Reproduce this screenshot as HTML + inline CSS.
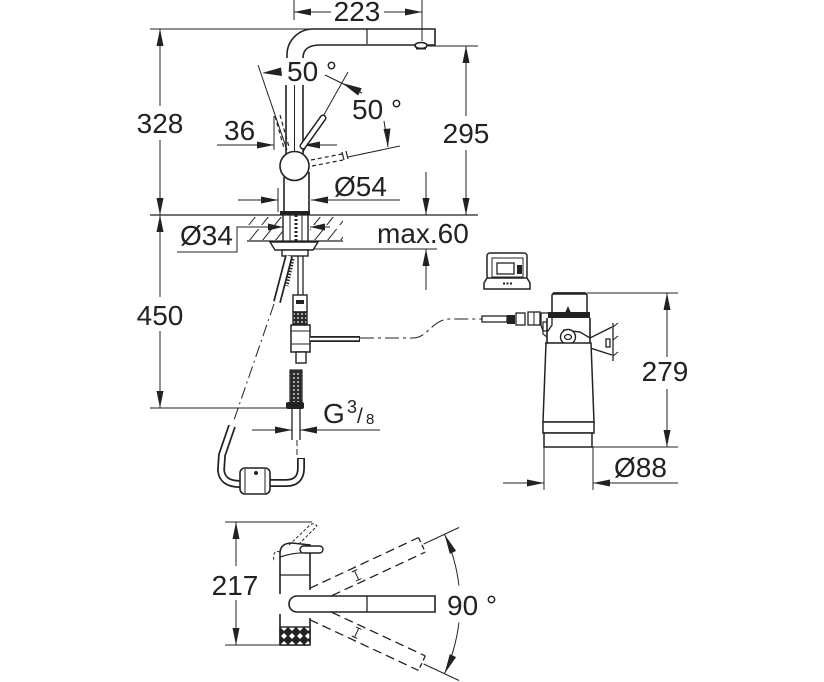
<!DOCTYPE html>
<html><head><meta charset="utf-8"><style>
html,body{margin:0;padding:0;background:#fff;}
svg{display:block;}
text{font-family:"Liberation Sans",Arial,sans-serif;fill:#222;stroke:none;}
</style></head><body>
<svg width="824" height="682" viewBox="0 0 824 682" xmlns="http://www.w3.org/2000/svg">
<defs>
<pattern id="braid" width="4" height="4" patternUnits="userSpaceOnUse"><rect width="4" height="4" fill="#2a2a2a"/><circle cx="2" cy="2" r="0.9" fill="#fff"/></pattern>
<pattern id="knurl" width="8" height="8" patternUnits="userSpaceOnUse"><rect width="8" height="8" fill="#222"/><path d="M4,1 L7,4 L4,7 L1,4 Z" fill="#fff"/></pattern>
<clipPath id="hatchclip"><rect x="247" y="217" width="36" height="8"/><rect x="310" y="217" width="33" height="8"/><rect x="247" y="229" width="36" height="11"/><rect x="310" y="229" width="33" height="11"/></clipPath>
</defs>

<!-- thin dimension lines -->
<g fill="none" stroke="#222" stroke-width="1">
<line x1="294" y1="0" x2="294" y2="20"/>
<line x1="422" y1="0" x2="422" y2="41"/>
<line x1="294" y1="12" x2="331" y2="12"/><line x1="384" y1="12" x2="422" y2="12"/>
<line x1="150" y1="29" x2="313" y2="29"/>
<line x1="160" y1="29" x2="160" y2="106"/><line x1="160" y1="140" x2="160" y2="215"/>
<line x1="160" y1="215" x2="160" y2="297"/><line x1="160" y1="331" x2="160" y2="408"/>
<line x1="150" y1="408" x2="290" y2="408"/>
<line x1="428" y1="46" x2="478" y2="46"/>
<line x1="466" y1="46" x2="466" y2="116"/><line x1="466" y1="150" x2="466" y2="215"/>
<line x1="426" y1="172" x2="426" y2="215"/><line x1="426" y1="249" x2="426" y2="290"/>
<line x1="280" y1="249" x2="437" y2="249"/>
<line x1="278" y1="188" x2="278" y2="212"/>
<line x1="238" y1="200" x2="278" y2="200"/><line x1="311" y1="200" x2="400" y2="200"/>
<line x1="274" y1="116" x2="274" y2="150"/>
<line x1="217" y1="145" x2="274" y2="145"/><line x1="303" y1="145" x2="337" y2="145"/>
<line x1="258" y1="65" x2="287" y2="150"/>
<line x1="303" y1="152" x2="348" y2="72"/>
<line x1="325" y1="75" x2="362" y2="93"/>
<line x1="384" y1="121" x2="388" y2="147"/>
<line x1="348" y1="157" x2="400" y2="146"/>
<polyline points="177,252 237,252 237,227 283,227"/>
<line x1="310" y1="227" x2="330" y2="227"/>
<line x1="252" y1="430" x2="292" y2="430"/><line x1="300" y1="430" x2="380" y2="430"/>
<line x1="587" y1="293" x2="678" y2="293"/><line x1="592" y1="447" x2="678" y2="447"/>
<line x1="667" y1="293" x2="667" y2="357"/><line x1="667" y1="389" x2="667" y2="447"/>
<line x1="544" y1="447" x2="544" y2="490"/><line x1="593" y1="447" x2="593" y2="490"/>
<line x1="503" y1="483" x2="544" y2="483"/><line x1="593" y1="483" x2="678" y2="483"/>
<line x1="225" y1="522" x2="312" y2="522"/><line x1="225" y1="645" x2="282" y2="645"/>
<line x1="236" y1="522" x2="236" y2="566"/><line x1="236" y1="600" x2="236" y2="645"/>
<path d="M444.5,534.3 A165,165 0 0 1 458.9,585.4"/>
<path d="M458.9,622.6 A165,165 0 0 1 444.5,673.7"/>
<g transform="rotate(-25 295 604)"><line x1="437" y1="604" x2="476" y2="604"/></g>
<g transform="rotate(25 295 604)"><line x1="437" y1="604" x2="476" y2="604"/></g>
<!-- hatch -->
<g clip-path="url(#hatchclip)">
<path d="M236,241 L256,216 M249,241 L269,216 M262,241 L282,216 M275,241 L295,216 M301,241 L321,216 M314,241 L334,216 M327,241 L347,216 M340,241 L360,216"/>
</g>
<!-- dash-dot lines -->
<path d="M274,304 L233,423" stroke-dasharray="12 4 2 4"/>
<path d="M297,440 L297,458" stroke-dasharray="6 3"/>
<path d="M360,338 L413,338 C428,338 432,319 450,319 L482,319" stroke-dasharray="14 4 3 4"/>
</g>

<!-- arrowheads -->
<g fill="#222" stroke="none">
<polygon points="160,29 156.5,46 163.5,46"/>
<polygon points="466,46 462.5,63 469.5,63"/>
<polygon points="426,249 422.5,266 429.5,266"/>
<polygon points="160,215 156.5,232 163.5,232"/>
<polygon points="667,293 663.5,310 670.5,310"/>
<polygon points="236,522 232.5,539 239.5,539"/>
<polygon points="160,215 156.5,198 163.5,198"/>
<polygon points="466,215 462.5,198 469.5,198"/>
<polygon points="426,215 422.5,198 429.5,198"/>
<polygon points="160,408 156.5,391 163.5,391"/>
<polygon points="667,447 663.5,430 670.5,430"/>
<polygon points="236,645 232.5,628 239.5,628"/>
<polygon points="422,12 405,8.5 405,15.5"/>
<polygon points="278,200 261,196.5 261,203.5"/>
<polygon points="274,145 257,141.5 257,148.5"/>
<polygon points="283,227 268,223.5 268,230.5"/>
<polygon points="292,430 275,426.5 275,433.5"/>
<polygon points="544,483 527,479.5 527,486.5"/>
<polygon points="294,12 311,8.5 311,15.5"/>
<polygon points="311,200 328,196.5 328,203.5"/>
<polygon points="303,145 320,141.5 320,148.5"/>
<polygon points="310,227 325,223.5 325,230.5"/>
<polygon points="300,430 317,426.5 317,433.5"/>
<polygon points="593,483 610,479.5 610,486.5"/>
<polygon points="262,73 281,67.5 282,76"/>
<polygon points="342,83 358.1,95.5 361.7,88.3"/>
<polygon points="388,147 383.5,129 390.5,128.5"/>
<polygon points="444.5,534.3 456.1,550.9 449.8,553.9"/>
<polygon points="444.5,673.7 456.1,657.1 449.8,654.1"/>
</g>

<!-- object lines -->
<g fill="none" stroke="#222" stroke-width="1.6">
<!-- spout side view -->
<path d="M313,29 L435,29 L435,45 L320,45"/>
<path d="M287,58 L287,55 A26,26 0 0 1 313,29"/>
<path d="M303,58 Q303,45 320,45"/>
<line x1="367" y1="29" x2="367" y2="44" stroke-width="1.2"/>
<ellipse cx="421" cy="45.5" rx="6" ry="3" fill="#fff"/>
<line x1="416" y1="48.5" x2="426" y2="48.5" stroke-width="2"/>
<line x1="286" y1="85" x2="286" y2="154"/>
<line x1="303" y1="85" x2="303" y2="155"/>
<line x1="294.5" y1="85" x2="294.5" y2="152" stroke-width="1"/>
<circle cx="294.5" cy="166" r="14.5" fill="#fff"/>
<line x1="284" y1="177" x2="284" y2="211"/>
<line x1="309" y1="172" x2="309" y2="211"/>
<rect x="280" y="211" width="30" height="4" fill="#222" stroke="none"/>
<!-- levers -->
<line x1="303" y1="146" x2="323" y2="118" stroke-width="7" stroke-linecap="round"/>
<line x1="303" y1="146" x2="323" y2="118" stroke="#fff" stroke-width="4" stroke-linecap="round"/>
<g stroke-width="1.2" stroke-dasharray="4 3">
<line x1="275" y1="116" x2="284" y2="148"/>
<line x1="280" y1="115" x2="289" y2="147"/>
<line x1="311" y1="160" x2="342" y2="154"/>
<line x1="312" y1="166" x2="343" y2="160"/>
</g>
<path d="M342,152 L344,160 M346,151 L348,159" stroke-width="1.2"/>
<!-- counter -->
<line x1="150" y1="215" x2="478" y2="215" stroke-width="1.3"/>
<line x1="247" y1="241" x2="343" y2="241" stroke-width="1.3"/>
<line x1="283" y1="215" x2="283" y2="241" stroke-width="1.4"/>
<line x1="308" y1="215" x2="308" y2="241" stroke-width="1.4"/>
<line x1="290" y1="215" x2="290" y2="241" stroke-width="1"/>
<line x1="302" y1="215" x2="302" y2="241" stroke-width="1"/>
<line x1="296" y1="215" x2="296" y2="241" stroke-width="3" stroke-dasharray="2 2"/>
<polygon points="270,242 318,242 313,250 275,250" fill="#fff" stroke-width="1.4"/>
<rect x="282" y="250" width="26" height="6" fill="#fff" stroke-width="1.4"/>
<!-- supply -->
<line x1="298" y1="256" x2="298" y2="295" stroke-width="1.3"/>
<line x1="303" y1="256" x2="303" y2="295" stroke-width="1.3"/>
<line x1="289" y1="256" x2="277" y2="302" stroke-width="8"/>
<line x1="289" y1="256" x2="277" y2="302" stroke="#fff" stroke-width="4.5"/>
<line x1="293" y1="259" x2="287" y2="286" stroke-width="3" stroke-dasharray="1.5 1.5"/>
<rect x="293" y="295" width="14" height="17" fill="#fff" stroke-width="1.4"/>
<rect x="296" y="300" width="8" height="4" fill="#222" stroke="none"/>
<rect x="293" y="312" width="14" height="13" fill="url(#braid)" stroke-width="1.4"/>
<rect x="291" y="325" width="19" height="27" fill="#fff" stroke-width="1.5"/>
<line x1="291" y1="331" x2="310" y2="331" stroke-width="1"/>
<line x1="291" y1="344" x2="310" y2="344" stroke-width="1"/>
<line x1="310" y1="339" x2="360" y2="339" stroke-width="6"/>
<line x1="310" y1="339" x2="359" y2="339" stroke="#fff" stroke-width="2.5"/>
<rect x="296" y="352" width="10" height="11" fill="#fff" stroke-width="1.4"/>
<rect x="290" y="370" width="12" height="33" fill="url(#braid)" stroke-width="1.2"/>
<rect x="286" y="402" width="18" height="7" rx="2" fill="#222" stroke="none"/>
<line x1="292" y1="409" x2="292" y2="440" stroke-width="1.3"/>
<line x1="300" y1="409" x2="300" y2="440" stroke-width="1.3"/>
<!-- hose loop -->
<path d="M232,426 L222,455 L221,470 Q222,484 240,484" stroke-width="8"/>
<path d="M232,426 L222,455 L221,470 Q222,484 240,484" stroke="#fff" stroke-width="4.5"/>
<path d="M301,458 L301,468 Q301,483 286,483 L270,483" stroke-width="8"/>
<path d="M301,459 L301,468 Q301,483 286,483 L270,483" stroke="#fff" stroke-width="4.5"/>
<rect x="240" y="468" width="30" height="26" rx="5" fill="#fff" stroke-width="1.6"/>
<line x1="245" y1="469" x2="245" y2="493" stroke-width="1"/>
<line x1="265" y1="469" x2="265" y2="493" stroke-width="1"/>
<circle cx="256" cy="473" r="2" fill="#222" stroke="none"/>
<!-- display -->
<rect x="487" y="253" width="40" height="26" rx="3" fill="#fff" stroke-width="1.5"/>
<rect x="492" y="258" width="31" height="19" stroke-width="1"/>
<rect x="497" y="263" width="17" height="11" stroke-width="1.3"/>
<rect x="517" y="265" width="5" height="9" fill="#222" stroke="none"/>
<path d="M487,278 L484,283 L484,289 L530,289 L530,283 L527,278 Z" fill="#fff" stroke-width="1.5"/>
<line x1="503" y1="283.5" x2="512" y2="283.5" stroke-width="2" stroke-dasharray="2 1.5"/>
<!-- filter -->
<rect x="482" y="316" width="25" height="6" fill="#fff" stroke-width="1.3"/>
<rect x="507" y="315" width="8" height="9" fill="#222" stroke="none"/>
<rect x="516" y="313" width="9" height="12" fill="#fff" stroke-width="1.3"/>
<rect x="528" y="312" width="12" height="13" fill="#fff" stroke-width="1.3"/>
<line x1="534" y1="312" x2="534" y2="325" stroke-width="1"/>
<path d="M541,313 L552,313 L552,325 L548,331 L543,331 L541,325 Z" fill="#fff" stroke-width="1.3"/>
<path d="M552,313 L552,296 Q552,293 555,293 L584,293 Q587,293 587,296 L587,313" fill="#fff" stroke-width="1.5"/>
<line x1="553" y1="293.5" x2="586" y2="293.5" stroke-width="2.5"/>
<rect x="548" y="312" width="42" height="6" fill="#222" stroke="none"/>
<polygon points="568,306 565,313 571,313" fill="#222" stroke="none"/>
<line x1="547" y1="318" x2="547" y2="343"/>
<line x1="590" y1="318" x2="590" y2="343"/>
<path d="M547,322 L543,322 L543,334 L547,337" stroke-width="1.2"/>
<line x1="545" y1="343" x2="562" y2="343" stroke-width="1.3"/>
<path d="M563,330 L580,332 L590,338 L612,327" stroke-width="1.4"/>
<path d="M560,345 L590,348 L612,355" stroke-width="1.4"/>
<circle cx="568" cy="337" r="7.5" fill="#fff" stroke-width="1.4"/>
<ellipse cx="568" cy="337" rx="3.5" ry="2.5" stroke-width="1.2"/>
<line x1="613" y1="323" x2="613" y2="361" stroke-width="1.3"/>
<path d="M613,327 L618,323 M613,340 L618,336 M613,356 L618,352" stroke-width="1"/>
<rect x="606" y="339" width="4" height="8" fill="#fff" stroke-width="1.3"/>
<polygon points="546,343 591,343 594,422 543,422" fill="#fff" stroke-width="1.5"/>
<rect x="543" y="422" width="51" height="11" fill="#fff" stroke-width="1.5"/>
<rect x="544" y="433" width="48" height="14" fill="#fff" stroke-width="1.5"/>
<!-- bottom view -->
<line x1="280" y1="560" x2="280" y2="594"/>
<line x1="280" y1="614" x2="280" y2="645"/>
<line x1="310" y1="560" x2="310" y2="590"/>
<line x1="310" y1="618" x2="310" y2="645"/>
<line x1="280" y1="645" x2="310" y2="645"/>
<line x1="280" y1="575" x2="310" y2="575" stroke-width="1.2"/>
<rect x="280" y="627" width="30" height="18" fill="url(#knurl)" stroke-width="1.4"/>
<path d="M280,560 L280,552 Q281,543 292,543 L310,545 L310,560"/>
<path d="M280,557 Q295,552 310,553" stroke-width="1.2"/>
<path d="M280,552 Q272,549 274,562" stroke-width="1" stroke-dasharray="3 2"/>
<path d="M289,545 L308,527 Q313,521 317,526 L298,545" stroke-width="1" stroke-dasharray="3 2"/>
<rect x="300" y="546" width="23" height="7" rx="3.5" fill="#fff" stroke-width="1.4"/>
<path d="M297,596 L435,596 L435,612 L297,612 A8,8 0 0 1 297,596 Z" fill="#fff"/>
<line x1="367" y1="596" x2="367" y2="612" stroke-width="1.3"/>
<g transform="rotate(-25 295 604)" stroke-width="1.3">
<line x1="315" y1="596" x2="435" y2="596" stroke-dasharray="9 5"/>
<line x1="332" y1="612" x2="435" y2="612" stroke-dasharray="9 5"/>
<line x1="435" y1="596" x2="435" y2="612" stroke-dasharray="5 3"/>
<path d="M363,599 L363,609 M360,599 L366,599 M360,609 L366,609" stroke-width="1"/>
</g>
<g transform="rotate(25 295 604)" stroke-width="1.3">
<line x1="332" y1="596" x2="435" y2="596" stroke-dasharray="9 5"/>
<line x1="315" y1="612" x2="435" y2="612" stroke-dasharray="9 5"/>
<line x1="435" y1="596" x2="435" y2="612" stroke-dasharray="5 3"/>
<path d="M363,599 L363,609 M360,599 L366,599 M360,609 L366,609" stroke-width="1"/>
</g>
</g>

<!-- labels -->
<g font-size="28">
<text x="357" y="21" text-anchor="middle">223</text>
<text x="160" y="133" text-anchor="middle">328</text>
<text x="287" y="81">50 °</text>
<text x="352" y="119">50 °</text>
<text x="224" y="140">36</text>
<text x="466" y="143" text-anchor="middle">295</text>
<text x="334" y="196">Ø54</text>
<text x="180" y="245">Ø34</text>
<text x="377" y="243">max.60</text>
<text x="160" y="325" text-anchor="middle">450</text>
<text x="323" y="423">G</text>
<text x="347" y="413" font-size="18">3</text>
<text x="357" y="423" font-size="21">/</text>
<text x="366" y="424" font-size="15">8</text>
<text x="665" y="381" text-anchor="middle">279</text>
<text x="614" y="477">Ø88</text>
<text x="235" y="595" text-anchor="middle">217</text>
<text x="447" y="615">90 °</text>
</g>
</svg>
</body></html>
